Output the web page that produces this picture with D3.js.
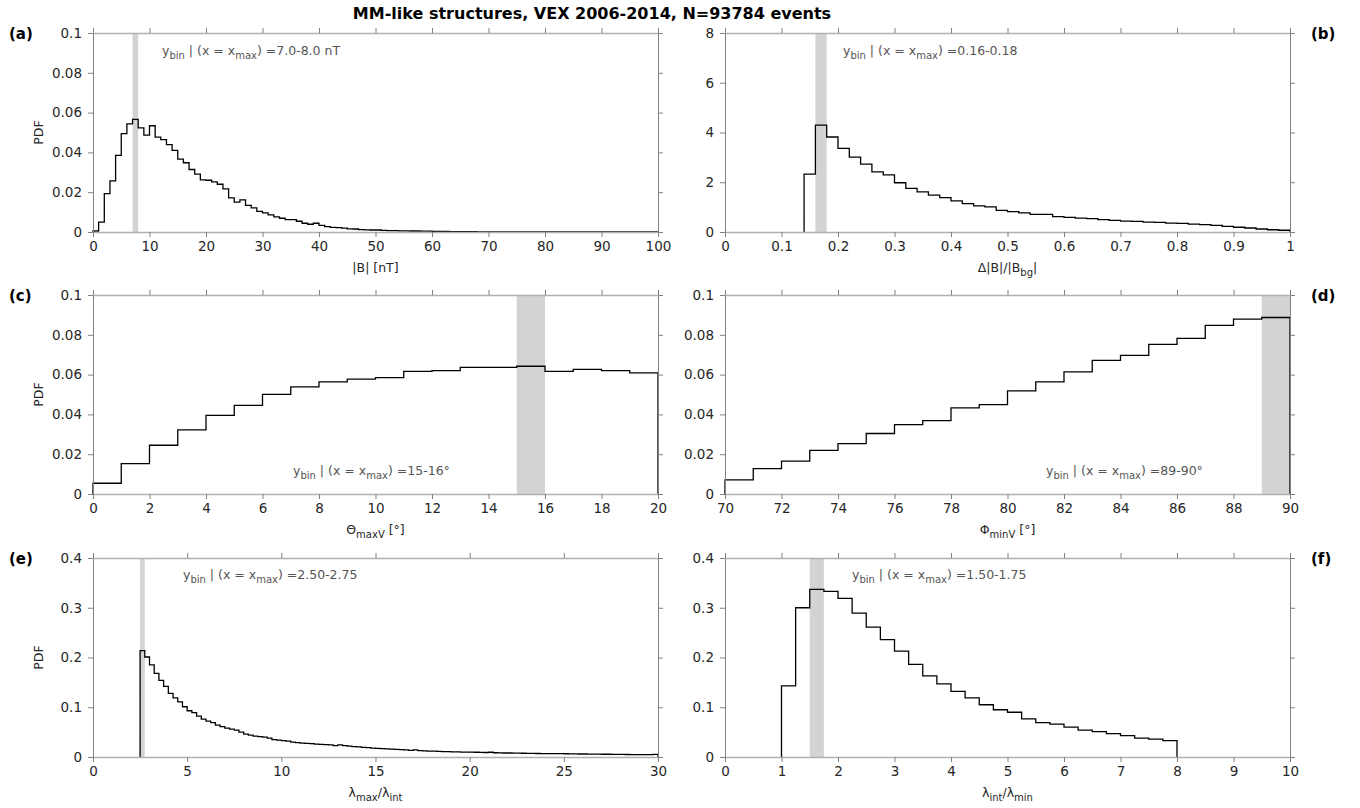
<!DOCTYPE html>
<html>
<head>
<meta charset="utf-8">
<script src="https://cdn.jsdelivr.net/npm/d3@7"></script>
<style>
  body { margin: 0; background: #fff; }
  svg text { font-family: "DejaVu Sans", sans-serif; }
</style>
</head>
<body>
<div id="chart-container"></div>
<script>
// ---- data ----
const title = "MM-like structures, VEX 2006-2014, N=93784 events"

// (a) |B| [nT], bins of 1 nT starting at 0
const pdfB = [
  0.0005, 0.005, 0.0193, 0.0257, 0.0385, 0.0494, 0.0543, 0.0566, 0.0523, 0.0487,
  0.0534, 0.0477, 0.0464, 0.0439, 0.041, 0.0366, 0.0348, 0.0314, 0.0291, 0.0262,
  0.026, 0.0252, 0.024, 0.0217, 0.0171, 0.015, 0.0161, 0.0134, 0.0121, 0.0104,
  0.0096, 0.0086, 0.0076, 0.0069, 0.0062, 0.0062, 0.0054, 0.0044, 0.0039, 0.0044,
  0.0033, 0.0027, 0.0023, 0.0022, 0.0019, 0.0016, 0.0015, 0.0012, 0.0011, 0.001,
  0.001, 0.0008, 0.0007, 0.0007, 0.0006, 0.0006, 0.0005, 0.0005, 0.0004, 0.0004,
  0.0003, 0.0003, 0.0003, 0.0002, 0.0002, 0.0002, 0.0002, 0.0002, 0.0001, 0.0001,
  0.0001, 0.0001, 0.0001, 0.0001, 0.0001, 0.0001, 0.0001, 0.0001, 0.0001, 0.0001,
  0.0001, 0.0001, 0.00005, 0.00005, 0.00005, 0.00005, 0.00005, 0.00005, 0.00005, 0.00005,
  0.00005, 0.00005, 0.00005, 0.00005, 0.00005, 0.00005, 0.00005, 0.00005, 0.00005, 0.00005
]
// (b) Δ|B|/|Bbg|, bins of 0.02 starting at 0.14
const pdfDB = [
  2.33, 4.3, 3.82, 3.36, 3.01, 2.73, 2.42, 2.30, 1.98, 1.75,
  1.61, 1.48, 1.38, 1.25, 1.14, 1.05, 1.01, 0.87, 0.82, 0.77,
  0.71, 0.71, 0.62, 0.59, 0.56, 0.54, 0.50, 0.47, 0.44, 0.43,
  0.40, 0.39, 0.36, 0.35, 0.32, 0.30, 0.27, 0.23, 0.19, 0.16,
  0.12, 0.09, 0.07
]
// (c) Θ_maxV, bins of 1° starting at 0
const pdfTheta = [
  0.0054, 0.0153, 0.0245, 0.0322, 0.0395, 0.0445, 0.0501, 0.0538, 0.0563, 0.0577,
  0.0585, 0.0616, 0.062, 0.0636, 0.0636, 0.0642, 0.0616, 0.0626, 0.062, 0.0609
]
// (d) Φ_minV, bins of 1° starting at 70
const pdfPhi = [
  0.0071, 0.0128, 0.0165, 0.0219, 0.0253, 0.0304, 0.0349, 0.0369, 0.0433, 0.0449,
  0.0518, 0.0563, 0.0614, 0.0671, 0.0697, 0.0752, 0.0782, 0.0847, 0.0879, 0.0887
]
// (e) λmax/λint, bins of 0.25 starting at 2.5
const pdfLmaxInt = [
  0.214, 0.201, 0.185, 0.168, 0.154, 0.142, 0.128, 0.119, 0.111, 0.101,
  0.093, 0.089, 0.082, 0.076, 0.072, 0.069, 0.064, 0.061, 0.058, 0.056,
  0.054, 0.050, 0.046, 0.044, 0.042, 0.041, 0.040, 0.038, 0.035, 0.034,
  0.033, 0.032, 0.030, 0.029, 0.028, 0.0275, 0.027, 0.026, 0.0255, 0.025,
  0.0245, 0.023, 0.0245, 0.023, 0.022, 0.021, 0.0205, 0.0195, 0.019, 0.018,
  0.0175, 0.017, 0.0165, 0.016, 0.0155, 0.015, 0.0145, 0.0135, 0.0145, 0.013,
  0.0125, 0.012, 0.012, 0.0115, 0.011, 0.011, 0.0105, 0.0105, 0.010, 0.010,
  0.0098, 0.0095, 0.0092, 0.009, 0.0095, 0.0085, 0.0083, 0.008, 0.008, 0.0078,
  0.0076, 0.0075, 0.0074, 0.0072, 0.007, 0.0069, 0.0068, 0.0067, 0.0066, 0.0066,
  0.0065, 0.0063, 0.0062, 0.006, 0.006, 0.0058, 0.0056, 0.0056, 0.0055, 0.0055,
  0.0053, 0.0052, 0.0052, 0.005, 0.0049, 0.0048, 0.0048, 0.0047, 0.0046, 0.0052
]
// (f) λint/λmin, bins of 0.25 starting at 1
const pdfLintMin = [
  0.143, 0.30, 0.337, 0.333, 0.319, 0.289, 0.261, 0.236, 0.213, 0.186,
  0.163, 0.147, 0.132, 0.119, 0.105, 0.095, 0.09, 0.0765, 0.069, 0.066,
  0.06, 0.054, 0.051, 0.047, 0.043, 0.038, 0.036, 0.033
]

const xTicksA = [0, 10, 20, 30, 40, 50, 60, 70, 80, 90, 100]
const xTicksB = [0, 0.1, 0.2, 0.3, 0.4, 0.5, 0.6, 0.7, 0.8, 0.9, 1]
const xTicksC = [0, 2, 4, 6, 8, 10, 12, 14, 16, 18, 20]
const xTicksD = [70, 72, 74, 76, 78, 80, 82, 84, 86, 88, 90]
const xTicksE = [0, 5, 10, 15, 20, 25, 30]
const xTicksF = [0, 1, 2, 3, 4, 5, 6, 7, 8, 9, 10]
const yTicksSmall = [0, 0.02, 0.04, 0.06, 0.08, 0.1]
const yTicksB = [0, 2, 4, 6, 8]
const yTicksL = [0, 0.1, 0.2, 0.3, 0.4]

// ---- layout ----
const W = 1360, H = 808
const pw = 565, ph = 199
const colX = [93, 725]
const rowY = [33, 295, 558]

const svg = d3.select("#chart-container")
  .append("svg")
    .attr("width", W)
    .attr("height", H)

svg.append("rect").attr("width", W).attr("height", H).attr("fill", "#fff")

svg.append("text")
  .attr("x", 592).attr("y", 19)
  .attr("text-anchor", "middle")
  .attr("font-size", 16).attr("font-weight", "bold")
  .attr("fill", "#000")
  .text(title)

// text with subscripts: parts = [[text, isSub], ...]
function richText(g, parts, fontSize) {
  parts.forEach(([t, sub], i) => {
    const prevSub = i > 0 && parts[i - 1][1]
    let dy = 0
    if (sub && !prevSub) dy = fontSize * 0.35
    if (!sub && prevSub) dy = -fontSize * 0.35
    g.append("tspan")
      .attr("dy", dy)
      .attr("font-size", sub ? fontSize * 0.8 : fontSize)
      .text(t)
  })
}

const fmt = d => String(+d.toFixed(6))

function drawPanel(p) {
  const x0 = colX[p.col], y0 = rowY[p.row]
  const g = svg.append("g").attr("transform", `translate(${x0}, ${y0})`)

  const x = d3.scaleLinear().domain(p.xDomain).range([0, pw])
  const y = d3.scaleLinear().domain(p.yDomain).range([ph, 0])

  // max bin shading
  g.append("rect")
    .attr("x", x(p.band[0]))
    .attr("width", x(p.band[1]) - x(p.band[0]))
    .attr("y", 0)
    .attr("height", ph)
    .attr("fill", "#d3d3d3")

  // stairs
  const pts = [[p.start, 0]]
  p.values.forEach((v, i) => pts.push([p.start + i * p.binW, v]))
  pts.push([p.start + p.values.length * p.binW, 0])

  const line = d3.line()
    .x(d => x(d[0]))
    .y(d => y(d[1]))
    .curve(d3.curveStepAfter)

  g.append("path")
    .datum(pts)
    .attr("fill", "none")
    .attr("stroke", "#000")
    .attr("stroke-width", 1.3)
    .attr("d", line)

  // axes, matlab style box with outward ticks
  const bottom = g.append("g")
    .attr("transform", `translate(0, ${ph})`)
    .call(d3.axisBottom(x).tickValues(p.xTicks).tickFormat(fmt).tickSize(5).tickSizeOuter(0))
  const top = g.append("g")
    .call(d3.axisTop(x).tickValues(p.xTicks).tickFormat("").tickSize(5).tickSizeOuter(0))
  const left = g.append("g")
    .call(d3.axisLeft(y).tickValues(p.yTicks).tickFormat(fmt).tickSize(5).tickSizeOuter(0))
  const right = g.append("g")
    .attr("transform", `translate(${pw}, 0)`)
    .call(d3.axisRight(y).tickValues(p.yTicks).tickFormat("").tickSize(5).tickSizeOuter(0))

  ;[bottom, top].forEach(a => a.select(".domain").attr("stroke", "#b0b0b0").attr("stroke-width", 1.6))
  ;[left, right].forEach(a => a.select(".domain").attr("stroke", "#808080").attr("stroke-width", 1))
  ;[bottom, top, left, right].forEach(a => a.selectAll(".tick line").attr("stroke", "#808080"))

  bottom.selectAll(".tick text")
    .attr("y", 9).attr("dy", "0.71em")
    .attr("font-size", 13.5).attr("fill", "#262626").attr("font-family", "DejaVu Sans")
  left.selectAll(".tick text")
    .attr("x", -11)
    .attr("font-size", 13.5).attr("fill", "#262626").attr("font-family", "DejaVu Sans")

  // x label
  const xl = g.append("text")
    .attr("x", pw / 2).attr("y", ph + 40)
    .attr("text-anchor", "middle")
    .attr("fill", "#262626")
  richText(xl, p.xLabel, 12.5)

  if (p.col === 0) {
    g.append("text")
      .attr("transform", `translate(-50, ${ph / 2}) rotate(-90)`)
      .attr("text-anchor", "middle")
      .attr("font-size", 12.5)
      .attr("fill", "#262626")
      .text("PDF")
  }

  // annotation
  const an = g.append("text")
    .attr("x", p.note[0]).attr("y", p.note[1])
    .attr("fill", "#555")
  richText(an, [["y", 0], ["bin", 1], [" | (x = x", 0], ["max", 1], [") =" + p.noteText, 0]], 12.5)

  // panel letter
  svg.append("text")
    .attr("x", p.col === 0 ? 9 : 1311)
    .attr("y", y0 + 6)
    .attr("font-size", 15).attr("font-weight", "bold")
    .attr("fill", "#000")
    .text(p.letter)
}

drawPanel({ col: 0, row: 0, letter: "(a)", values: pdfB, start: 0, binW: 1,
  xDomain: [0, 100], yDomain: [0, 0.1], xTicks: xTicksA, yTicks: yTicksSmall,
  band: [7, 8], note: [69, 22], noteText: "7.0-8.0 nT",
  xLabel: [["|B| [nT]", 0]] })

drawPanel({ col: 1, row: 0, letter: "(b)", values: pdfDB, start: 0.14, binW: 0.02,
  xDomain: [0, 1], yDomain: [0, 8], xTicks: xTicksB, yTicks: yTicksB,
  band: [0.16, 0.18], note: [118, 22], noteText: "0.16-0.18",
  xLabel: [["Δ|B|/|B", 0], ["bg", 1], ["|", 0]] })

drawPanel({ col: 0, row: 1, letter: "(c)", values: pdfTheta, start: 0, binW: 1,
  xDomain: [0, 20], yDomain: [0, 0.1], xTicks: xTicksC, yTicks: yTicksSmall,
  band: [15, 16], note: [200, 180], noteText: "15-16°",
  xLabel: [["Θ", 0], ["maxV", 1], [" [°]", 0]] })

drawPanel({ col: 1, row: 1, letter: "(d)", values: pdfPhi, start: 70, binW: 1,
  xDomain: [70, 90], yDomain: [0, 0.1], xTicks: xTicksD, yTicks: yTicksSmall,
  band: [89, 90], note: [321, 180], noteText: "89-90°",
  xLabel: [["Φ", 0], ["minV", 1], [" [°]", 0]] })

drawPanel({ col: 0, row: 2, letter: "(e)", values: pdfLmaxInt, start: 2.5, binW: 0.25,
  xDomain: [0, 30], yDomain: [0, 0.4], xTicks: xTicksE, yTicks: yTicksL,
  band: [2.5, 2.75], note: [90, 21], noteText: "2.50-2.75",
  xLabel: [["λ", 0], ["max", 1], ["/λ", 0], ["int", 1]] })

drawPanel({ col: 1, row: 2, letter: "(f)", values: pdfLintMin, start: 1, binW: 0.25,
  xDomain: [0, 10], yDomain: [0, 0.4], xTicks: xTicksF, yTicks: yTicksL,
  band: [1.5, 1.75], note: [127, 21], noteText: "1.50-1.75",
  xLabel: [["λ", 0], ["int", 1], ["/λ", 0], ["min", 1]] })
</script>
</body>
</html>
